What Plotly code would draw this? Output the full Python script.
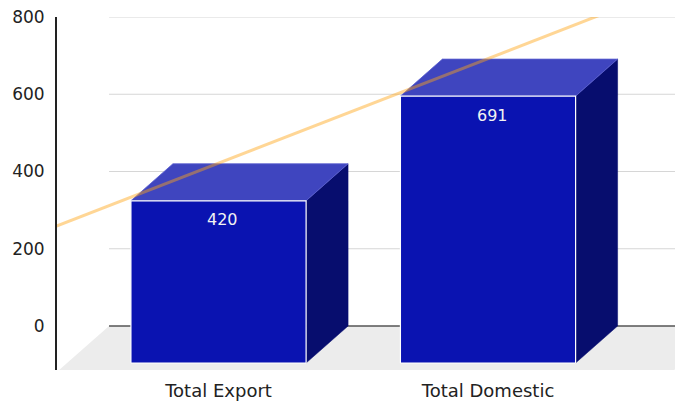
import numpy as np
import plotly.graph_objects as go

# ---- data ----
categories = ["Total Export", "Total Domestic"]
values = [420, 691]
y_ticks = [0, 200, 400, 600, 800]

# ---- style / geometry ----
BAR_HALF = 0.325          # half bar width in category units
DEPTH_DX = -0.1558        # projection of one unit of depth (category units)
DEPTH_DY = -95.8          # projection of one unit of depth (value units)
FLOOR_Z = 1.189
TREND_Z = -0.814
X_RANGE = [-0.7551, 1.538]
Y_RANGE = [-113.9, 800]
FRAME_LEFT = -0.562
FRAME_RIGHT = 1.72

FRONT = "#0a13b1"
TOP = "#3f45bf"
SIDE = "#070d6e"
FLOOR = "#ececec"
FONT = "DejaVu Sans"


def proj(x, v, z):
    return x + z * DEPTH_DX, v + z * DEPTH_DY


def poly(points):
    xs, ys = [], []
    for x, v, z in points:
        px, py = proj(x, v, z)
        xs.append(px)
        ys.append(py)
    xs.append(xs[0])
    ys.append(ys[0])
    return xs, ys


fig = go.Figure()

# floor
fx, fy = poly([(FRAME_LEFT, 0, 0), (FRAME_RIGHT, 0, 0),
               (FRAME_RIGHT, 0, FLOOR_Z), (FRAME_LEFT, 0, FLOOR_Z)])
fig.add_trace(go.Scatter(x=fx, y=fy, fill="toself", fillcolor=FLOOR,
                         mode="none", hoverinfo="skip", showlegend=False))

# grid lines
for t in y_ticks:
    fig.add_trace(go.Scatter(
        x=[FRAME_LEFT, X_RANGE[1]], y=[t, t], mode="lines",
        line=dict(color="#555555" if t == 0 else "#d6d6d6",
                  width=1.5 if t == 0 else 1),
        hoverinfo="skip", showlegend=False))

# bars
annotations = []
for i, (cat, v) in enumerate(zip(categories, values)):
    L, R = i - BAR_HALF, i + BAR_HALF
    # side
    sx, sy = poly([(R, 0, 0), (R, v, 0), (R, v, 1), (R, 0, 1)])
    fig.add_trace(go.Scatter(x=sx, y=sy, fill="toself", fillcolor=SIDE,
                             mode="lines", line=dict(color=SIDE, width=0.5),
                             hoverinfo="skip", showlegend=False))
    # top
    tx, ty = poly([(L, v, 0), (R, v, 0), (R, v, 1), (L, v, 1)])
    fig.add_trace(go.Scatter(x=tx, y=ty, fill="toself", fillcolor=TOP,
                             mode="lines", line=dict(color="#5a60d0", width=0.8),
                             hoverinfo="skip", showlegend=False))
    # front
    fx_, fy_ = poly([(L, 0, 1), (R, 0, 1), (R, v, 1), (L, v, 1)])
    fig.add_trace(go.Scatter(x=fx_, y=fy_, fill="toself", fillcolor=FRONT,
                             mode="lines", line=dict(color="#ffffff", width=1.2),
                             hoverinfo="skip", showlegend=False))
    ax, ay = proj(i, v, 1)
    annotations.append(dict(x=ax, y=ay, xref="x", yref="y", text=str(v),
                            showarrow=False, yanchor="middle", xshift=4,
                            yshift=-19,
                            font=dict(family=FONT, size=16, color="#f2f2f2")))

# trend line (linear fit of the values)
idx = np.arange(len(values))
coef = np.polyfit(idx, values, 1)
cs = np.array([-2.0, 3.0])
tv = np.polyval(coef, cs)
tx, ty = proj(cs, tv, TREND_Z)
fig.add_trace(go.Scatter(x=tx, y=ty, mode="lines",
                         line=dict(color="rgba(255,165,20,0.45)", width=3),
                         hoverinfo="skip", showlegend=False))

front_ticks = [proj(i, 0, 1)[0] for i in range(len(categories))]

fig.update_layout(
    width=675, height=402,
    margin=dict(l=57, r=0, t=17, b=32),
    paper_bgcolor="white", plot_bgcolor="white",
    showlegend=False,
    annotations=annotations,
    font=dict(family=FONT, size=16, color="#222222"),
    xaxis=dict(range=X_RANGE, showgrid=False, zeroline=False, showline=False,
               tickmode="array", tickvals=front_ticks, ticktext=categories,
               ticks="", ticklabelstandoff=8,
               tickfont=dict(family=FONT, size=18, color="#222222"),
               fixedrange=True),
    yaxis=dict(range=Y_RANGE, showgrid=False, zeroline=False,
               showline=True, linecolor="#222222", linewidth=2,
               tickmode="array", tickvals=y_ticks,
               ticks="", ticklabelstandoff=7,
               tickfont=dict(family=FONT, size=17, color="#222222"),
               fixedrange=True),
)

fig.write_html("out.html")
